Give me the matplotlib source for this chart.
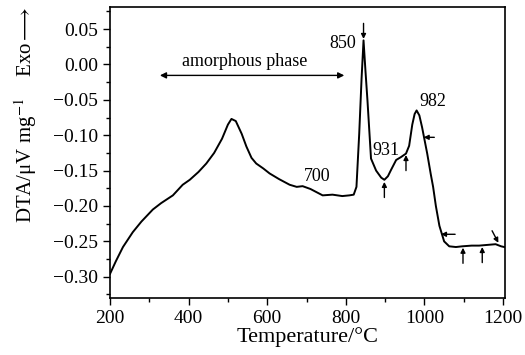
import matplotlib
matplotlib.use("Agg")
import matplotlib.pyplot as plt
from matplotlib.ticker import MultipleLocator

plt.rcParams['font.family'] = ['Liberation Serif', 'DejaVu Sans']
plt.rcParams['mathtext.fontset'] = 'stix'

# DTA curve
temp = [200, 215, 233, 258, 280, 309, 330, 360, 385, 403, 425, 445, 465, 485,
        500, 509, 520, 535, 547, 560, 572, 590, 606, 630, 657, 675, 690, 710,
        741, 766, 791, 809, 820, 827, 834, 840, 845, 850, 855, 864, 877, 890,
        898, 907, 915, 928, 940, 953, 961, 969, 975, 980, 987, 994, 1007, 1016,
        1022, 1029, 1038, 1050, 1063, 1080, 1096, 1120, 1139, 1160, 1181, 1195,
        1203]
dta = [-0.296, -0.278, -0.258, -0.237, -0.222, -0.205, -0.196, -0.185, -0.170,
       -0.163, -0.152, -0.140, -0.125, -0.105, -0.085, -0.077, -0.080, -0.098,
       -0.116, -0.132, -0.140, -0.147, -0.154, -0.162, -0.170, -0.173, -0.172,
       -0.176, -0.185, -0.184, -0.186, -0.185, -0.184, -0.173, -0.098, -0.020,
       0.034, -0.010, -0.051, -0.133, -0.150, -0.160, -0.163, -0.158, -0.149,
       -0.135, -0.131, -0.126, -0.115, -0.085, -0.070, -0.065, -0.072, -0.089,
       -0.126, -0.155, -0.173, -0.200, -0.228, -0.250, -0.257, -0.258, -0.257,
       -0.256, -0.256, -0.255, -0.254, -0.257, -0.258]

# peak labels: (text, x, y)
labels = [("850", 791, 0.030), ("931", 902, -0.121), ("982", 1022, -0.053),
          ("700", 728, -0.159)]

# small arrows: (tip x, tip y, tail x, tail y)
arrows = [(845, 0.036, 845, 0.058),
          (898, -0.166, 898, -0.188),
          (953, -0.128, 953, -0.150),
          (998, -0.103, 1025, -0.103),
          (1042, -0.240, 1078, -0.240),
          (1098, -0.259, 1098, -0.281),
          (1147, -0.258, 1147, -0.280),
          (1188, -0.252, 1172, -0.235)]

fig = plt.figure(figsize=(5.25, 3.55), dpi=100)
ax = fig.add_axes([0.2095, 0.1606, 0.7525, 0.8194])
ax.plot(temp, dta, color='black', lw=1.4)

ax.set_xlim(200, 1205)
ax.set_ylim(-0.33, 0.081)
ax.xaxis.set_major_locator(MultipleLocator(200))
ax.xaxis.set_minor_locator(MultipleLocator(100))
ax.yaxis.set_major_locator(MultipleLocator(0.05))
ax.yaxis.set_minor_locator(MultipleLocator(0.025))
ax.tick_params(which='major', direction='out', length=5, width=1, labelsize=14)
ax.tick_params(which='minor', direction='out', length=3, width=1)
ax.yaxis.set_major_formatter(plt.FuncFormatter(
    lambda v, p: ('%.2f' % v).replace('-', '\u2212') if abs(v) > 1e-9 else '0.00'))
for s in ax.spines.values():
    s.set_linewidth(1.2)

ax.set_xlabel('Temperature/\u00b0C', fontsize=16, labelpad=0)
ax.set_ylabel('DTA/\u03bcV mg$^{-1}$    Exo$\\longrightarrow$', fontsize=15)
ax.yaxis.set_label_coords(-0.18, 0.63)

for txt, x, y in labels:
    ax.text(x, y, txt, fontsize=13, ha='center', va='center')

ax.annotate('', xy=(327, -0.0155), xytext=(796, -0.0155),
            arrowprops=dict(arrowstyle='<|-|>', color='black', lw=1,
                            mutation_scale=9, shrinkA=0, shrinkB=0))
ax.text(543, 0.004, 'amorphous phase', fontsize=13, ha='center', va='center')

for xt, yt, xs, ys in arrows:
    ax.annotate('', xy=(xt, yt), xytext=(xs, ys),
                arrowprops=dict(arrowstyle='-|>', color='black', lw=1,
                                mutation_scale=7, shrinkA=0, shrinkB=0))

fig.savefig('out.png', dpi=100)
